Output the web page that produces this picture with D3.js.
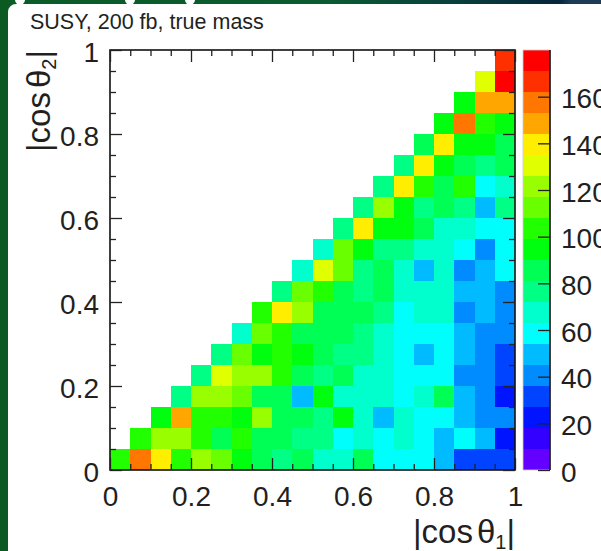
<!DOCTYPE html>
<html>
<head>
<meta charset="utf-8">
<script src="https://cdn.jsdelivr.net/npm/d3@7"></script>
<style>
  body { margin: 0; background: #fff; }
  svg { display: block; font-family: "Liberation Sans", Arial, sans-serif; }
</style>
</head>
<body>
<svg width="601" height="551"></svg>
<script>
// 2D histogram |cos th1| vs |cos th2|, 20 x 20 bins, only bins with th2 bin <= th1 bin are filled
// counts[j] = row j (|cos th2| bin j), values for |cos th1| bins j..19
const counts = [
  [103,157,139,103,121,112,94,85,76,85,67,67,85,58,58,58,49,31,31,31],
  [103,121,121,103,85,103,85,85,76,76,58,67,58,67,58,49,58,49,22],
  [94,148,103,103,94,121,85,85,76,94,67,49,67,58,58,49,40,40],
  [76,121,121,112,85,85,49,94,67,67,67,58,67,85,49,40,22],
  [76,130,121,121,103,85,76,85,67,67,58,58,58,40,40,31],
  [76,112,94,103,94,85,76,76,67,58,49,58,49,40,31],
  [67,112,103,85,85,85,76,67,58,58,58,49,40,40],
  [103,139,121,85,85,85,76,58,67,67,40,49,40],
  [76,112,103,85,76,85,67,67,67,49,49,40],
  [67,130,112,76,85,67,49,67,40,49,58],
  [67,112,94,76,76,67,67,58,40,58],
  [76,139,94,94,85,67,67,58,58],
  [76,121,94,76,85,76,49,76],
  [76,139,103,85,103,58,67],
  [76,139,94,85,76,85],
  [85,139,94,94,85],
  [94,157,103,94],
  [94,148,148],
  [130,175],
  [166]
];

const binWidth = 0.05;
const axisTicks = [0, 0.2, 0.4, 0.6, 0.8, 1];
const axisMinor = [0.05,0.1,0.15,0.25,0.3,0.35,0.45,0.5,0.55,0.65,0.7,0.75,0.85,0.9,0.95];
const zTicks = [0, 20, 40, 60, 80, 100, 120, 140, 160];
const zMax = 180;
const nContours = 20;

const svg = d3.select("svg");

// slide background bits around the cropped picture
const defs = svg.append("defs");
const g1 = defs.append("linearGradient").attr("id", "topband");
g1.append("stop").attr("offset", "0%").attr("stop-color", "#0b5c26");
g1.append("stop").attr("offset", "55%").attr("stop-color", "#0b5a32");
g1.append("stop").attr("offset", "75%").attr("stop-color", "#08403c");
g1.append("stop").attr("offset", "93%").attr("stop-color", "#06263a");
g1.append("stop").attr("offset", "95%").attr("stop-color", "#1d3b55");
g1.append("stop").attr("offset", "100%").attr("stop-color", "#1d3b55");

svg.append("rect").attr("x", 0).attr("y", 0).attr("width", 601).attr("height", 4).attr("fill", "url(#topband)");
svg.append("rect").attr("x", 0).attr("y", 0).attr("width", 8).attr("height", 551).attr("fill", "#0a5a22");
svg.append("path").attr("d", "M8,4 L16,4 A8,8 0 0 0 8,12 Z").attr("fill", "#0a5a22");
[20, 130, 190].forEach(cx => {
  svg.append("ellipse").attr("cx", cx).attr("cy", 0).attr("rx", 5).attr("ry", 4.5).attr("fill", "#fff");
});

const x = d3.scaleLinear().domain([0, 1]).range([110, 515]);
const y = d3.scaleLinear().domain([0, 1]).range([470, 50]);
const z = d3.scaleLinear().domain([0, zMax]).range([470, 50]);

// ROOT "pretty" palette: 50 colours violet -> red, picked by contour level
function levelColor(k) {
  const idx = Math.floor((k + 0.99) * 50 / nContours);
  return d3.hsl(280 - (idx + 1) * 5.6, 1, 0.5).formatHex();
}
function color(v) {
  const k = Math.min(nContours - 1, Math.floor(v / zMax * nContours));
  return levelColor(k);
}

const cells = [];
counts.forEach((row, j) => {
  row.forEach((v, c) => cells.push({ i: j + c, j: j, v: v }));
});

svg.append("g")
  .selectAll("rect")
  .data(cells)
  .join("rect")
  .attr("x", d => x(d.i * binWidth))
  .attr("y", d => y((d.j + 1) * binWidth))
  .attr("width", x(binWidth) - x(0))
  .attr("height", y(0) - y(binWidth))
  .attr("fill", d => color(d.v))
  .attr("shape-rendering", "crispEdges");

// frame
svg.append("rect")
  .attr("x", x(0)).attr("y", y(1))
  .attr("width", x(1) - x(0)).attr("height", y(0) - y(1))
  .attr("fill", "none").attr("stroke", "#111").attr("stroke-width", 1.6);

function ticks(axis, tr, vals, size) {
  const g = svg.append("g").attr("transform", tr)
    .call(axis.tickValues(vals).tickSize(size).tickFormat(""));
  g.select(".domain").remove();
  g.selectAll("line").attr("stroke", "#222").attr("stroke-width", 1.3);
  return g;
}
// ticks on all four sides, pointing into the frame
ticks(d3.axisTop(x), `translate(0,${y(0)})`, axisTicks, 12);
ticks(d3.axisTop(x), `translate(0,${y(0)})`, axisMinor, 6);
ticks(d3.axisBottom(x), `translate(0,${y(1)})`, axisTicks, 12);
ticks(d3.axisBottom(x), `translate(0,${y(1)})`, axisMinor, 6);
ticks(d3.axisRight(y), `translate(${x(0)},0)`, axisTicks, 12);
ticks(d3.axisRight(y), `translate(${x(0)},0)`, axisMinor, 6);
ticks(d3.axisLeft(y), `translate(${x(1)},0)`, axisTicks, 12);
ticks(d3.axisLeft(y), `translate(${x(1)},0)`, axisMinor, 6);

const fmt = d => d === 0 ? "0" : d === 1 ? "1" : d3.format(".1f")(d);

const xl = svg.append("g").attr("transform", `translate(0,${y(0)})`)
  .call(d3.axisBottom(x).tickValues(axisTicks).tickSize(0).tickFormat(fmt));
xl.select(".domain").remove();
xl.selectAll("text").attr("y", 36).attr("dy", null)
  .attr("font-size", 28).attr("font-family", "Liberation Sans").attr("fill", "#231f20");

const yl = svg.append("g").attr("transform", `translate(${x(0)},0)`)
  .call(d3.axisLeft(y).tickValues(axisTicks).tickSize(0).tickFormat(fmt));
yl.select(".domain").remove();
yl.selectAll("text").attr("x", -11).attr("dy", "0.4em")
  .attr("font-size", 28).attr("font-family", "Liberation Sans").attr("fill", "#231f20");

// colour bar
const barX = 523, barW = 27;
svg.append("g")
  .selectAll("rect")
  .data(d3.range(nContours))
  .join("rect")
  .attr("x", barX)
  .attr("y", k => z((k + 1) * zMax / nContours))
  .attr("width", barW)
  .attr("height", k => z(k * zMax / nContours) - z((k + 1) * zMax / nContours))
  .attr("fill", k => levelColor(k))
  .attr("shape-rendering", "crispEdges");
svg.append("rect").attr("x", barX).attr("y", z(zMax)).attr("width", barW).attr("height", z(0) - z(zMax))
  .attr("fill", "none").attr("stroke", "#ccc").attr("stroke-width", 0.8);
svg.append("line").attr("x1", barX + barW).attr("x2", barX + barW).attr("y1", z(zMax)).attr("y2", z(0))
  .attr("stroke", "#111").attr("stroke-width", 1.6);
ticks(d3.axisLeft(z), `translate(${barX + barW},0)`, zTicks, 12);
const zl = svg.append("g").attr("transform", `translate(${barX + barW},0)`)
  .call(d3.axisRight(z).tickValues(zTicks).tickSize(0));
zl.select(".domain").remove();
zl.selectAll("text").attr("x", 11).attr("dy", "0.4em")
  .attr("font-size", 28).attr("font-family", "Liberation Sans").attr("fill", "#231f20");

// title and axis labels
svg.append("text").attr("x", 30).attr("y", 29)
  .attr("font-size", 21.5).attr("fill", "#231f20")
  .text("SUSY, 200 fb, true mass");

const xt = svg.append("text").attr("x", x(1)).attr("y", 543)
  .attr("text-anchor", "end").attr("font-size", 33).attr("fill", "#231f20");
xt.append("tspan").text("|cos");
xt.append("tspan").attr("dx", 4).text("θ");
xt.append("tspan").attr("font-size", 20).attr("dy", 6).text("1");
xt.append("tspan").attr("dy", -6).text("|");

const yt = svg.append("text")
  .attr("transform", `translate(50,${y(1)}) rotate(-90)`)
  .attr("text-anchor", "end").attr("font-size", 33).attr("fill", "#231f20");
yt.append("tspan").text("|cos");
yt.append("tspan").attr("dx", 4).text("θ");
yt.append("tspan").attr("font-size", 20).attr("dy", 6).text("2");
yt.append("tspan").attr("dy", -6).text("|");
</script>
</body>
</html>
